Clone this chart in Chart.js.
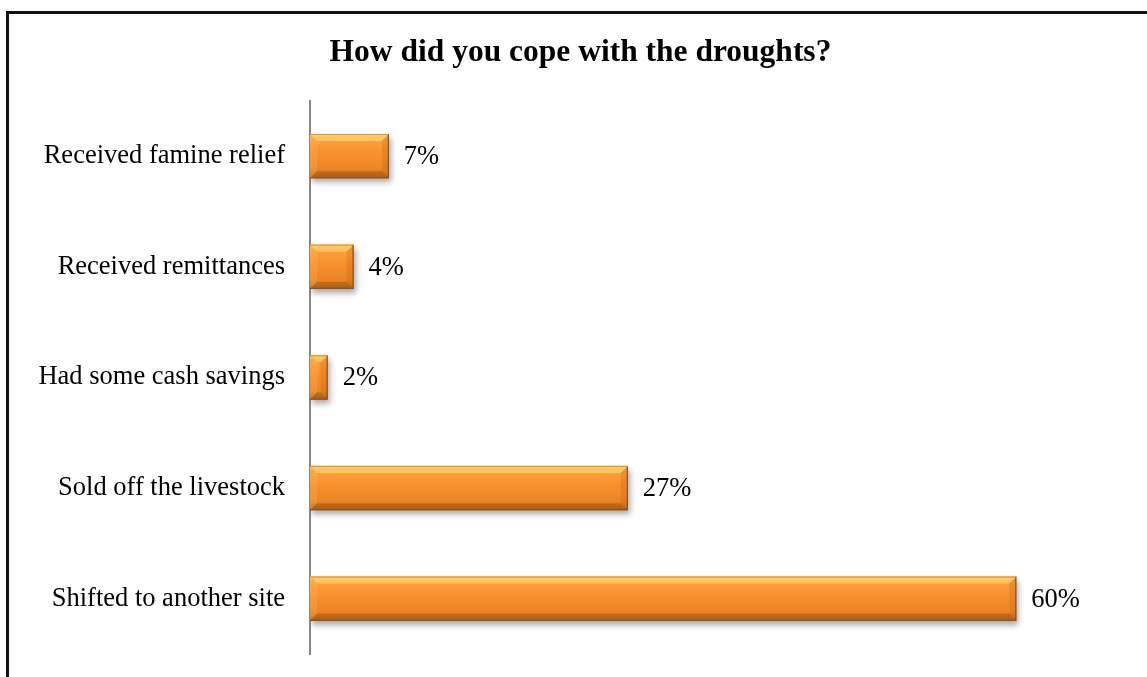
<!DOCTYPE html>
<html>
<head>
<meta charset="utf-8">
<script src="https://cdn.jsdelivr.net/npm/chart.js@4/dist/chart.umd.min.js"></script>
<style>
  html, body { margin: 0; padding: 0; background: #fff; }
  #wrap { position: relative; width: 1147px; height: 677px; overflow: hidden; }
  #frame { position: absolute; left: 6px; top: 11px; width: 1200px; height: 720px;
           border-left: 3px solid #111; border-top: 3px solid #111; box-sizing: border-box; }
  #c { position: absolute; left: 0; top: 0; }
</style>
</head>
<body>
<div id="wrap">
  <div id="frame"></div>
  <canvas id="c" width="1147" height="677"></canvas>
</div>
<script>
const titleText = "How did you cope with the droughts?";
const categories = [
  "Received famine relief",
  "Received remittances",
  "Had some cash savings",
  "Sold off the livestock",
  "Shifted to another site"
];
const values = [6.7, 3.7, 1.5, 27, 60];
const valueLabels = ["7%", "4%", "2%", "27%", "60%"];

const FONT = "'Liberation Serif', 'Times New Roman', serif";
const LABEL_SIZE = 26.5;

const bevelPlugin = {
  id: 'bevel',
  beforeDatasetsDraw(chart) {
    const ctx = chart.ctx;
    ctx.save();
    ctx.shadowColor = 'rgba(0,0,0,0.35)';
    ctx.shadowBlur = 6;
    ctx.shadowOffsetX = 2;
    ctx.shadowOffsetY = 4;
  },
  afterDatasetsDraw(chart) {
    const ctx = chart.ctx;
    ctx.restore();
    const meta = chart.getDatasetMeta(0);
    meta.data.forEach((el, i) => {
      const p = el.getProps(['x', 'y', 'base', 'height'], true);
      const l = Math.min(p.base, p.x), r = Math.max(p.base, p.x);
      const t = p.y - p.height / 2, b = p.y + p.height / 2;
      const w = r - l, h = b - t;
      const bv = Math.min(7, w / 2);
      ctx.save();
      const g = ctx.createLinearGradient(0, t, 0, b);
      g.addColorStop(0, '#FDC35E');
      g.addColorStop(0.12, '#FBA33C');
      g.addColorStop(0.45, '#F8902C');
      g.addColorStop(0.8, '#EA8426');
      g.addColorStop(1, '#B8661C');
      ctx.fillStyle = g;
      ctx.fillRect(l, t, w, h);
      ctx.beginPath();
      ctx.moveTo(l, t); ctx.lineTo(r, t); ctx.lineTo(r - bv, t + bv); ctx.lineTo(l + bv, t + bv); ctx.closePath();
      ctx.fillStyle = 'rgba(255,225,130,0.5)';
      ctx.fill();
      ctx.beginPath();
      ctx.moveTo(l, t); ctx.lineTo(l + bv, t + bv); ctx.lineTo(l + bv, b - bv); ctx.lineTo(l, b); ctx.closePath();
      ctx.fillStyle = 'rgba(255,200,110,0.2)';
      ctx.fill();
      ctx.beginPath();
      ctx.moveTo(r, t); ctx.lineTo(r, b); ctx.lineTo(r - bv, b - bv); ctx.lineTo(r - bv, t + bv); ctx.closePath();
      ctx.fillStyle = 'rgba(190,100,20,0.28)';
      ctx.fill();
      ctx.beginPath();
      ctx.moveTo(l, b); ctx.lineTo(r, b); ctx.lineTo(r - bv, b - bv); ctx.lineTo(l + bv, b - bv); ctx.closePath();
      ctx.fillStyle = 'rgba(150,75,10,0.35)';
      ctx.fill();
      ctx.strokeStyle = '#94501A';
      ctx.lineWidth = 1.2;
      ctx.beginPath();
      ctx.moveTo(r - 0.5, t); ctx.lineTo(r - 0.5, b - 0.5); ctx.lineTo(l, b - 0.5);
      ctx.stroke();
      ctx.strokeStyle = 'rgba(230,140,40,0.9)';
      ctx.beginPath();
      ctx.moveTo(l, t + 0.5); ctx.lineTo(r, t + 0.5);
      ctx.stroke();
      ctx.restore();
      ctx.save();
      ctx.font = LABEL_SIZE + 'px ' + FONT;
      ctx.fillStyle = '#000';
      ctx.textAlign = 'left';
      ctx.textBaseline = 'middle';
      ctx.fillText(valueLabels[i], r + 15, p.y + 1);
      ctx.restore();
    });
  }
};

new Chart(document.getElementById('c'), {
  type: 'bar',
  data: {
    labels: categories,
    datasets: [{
      data: values,
      backgroundColor: '#F7922E',
      borderWidth: 0,
      categoryPercentage: 1,
      barPercentage: 0.4
    }]
  },
  options: {
    indexAxis: 'y',
    responsive: false,
    animation: false,
    layout: { padding: { top: 0, right: 13, bottom: 23, left: 27 } },
    plugins: {
      legend: { display: false },
      tooltip: { enabled: false },
      title: {
        display: true,
        text: titleText,
        color: '#000',
        font: { family: FONT, size: 31.5, weight: 'bold' },
        padding: { top: 34, bottom: 29 }
      }
    },
    scales: {
      x: {
        display: false,
        min: 0,
        max: 70
      },
      y: {
        grid: { display: false, drawTicks: false },
        border: { display: true, color: '#888888', width: 2 },
        ticks: {
          color: '#000',
          font: { family: FONT, size: LABEL_SIZE },
          padding: 25
        },
        afterFit(scale) {
          scale.width = 283;
          scale.paddingTop = 0;
          scale.paddingBottom = 0;
        }
      }
    }
  },
  plugins: [bevelPlugin]
});
</script>
</body>
</html>
